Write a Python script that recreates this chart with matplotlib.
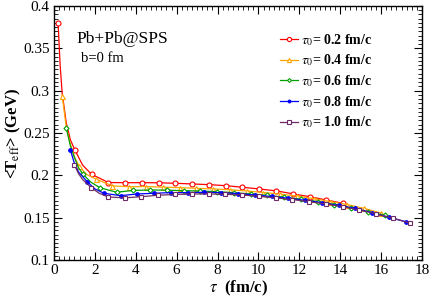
#!/usr/bin/env python3
"""Effective temperature vs proper time for Pb+Pb@SPS, several tau_0."""

import matplotlib

matplotlib.use("Agg")
import matplotlib.pyplot as plt
from matplotlib.ticker import MultipleLocator

# marked points (step 0.82 fm/c) for each tau_0
tau_02 = [0.2, 1.02, 1.84, 2.66, 3.48, 4.30, 5.12, 5.94, 6.76, 7.58, 8.40,
          9.22, 10.04, 10.86, 11.68, 12.50, 13.32, 14.14]
T_02 = [0.380, 0.230, 0.2012, 0.1915, 0.1913, 0.1913, 0.1912, 0.1906, 0.1898,
        0.1890, 0.1878, 0.1859, 0.1839, 0.1817, 0.1782, 0.1748, 0.1709, 0.1669]

tau_04 = [0.4, 1.22, 2.04, 2.86, 3.68, 4.50, 5.32, 6.14, 6.96, 7.78, 8.60,
          9.42, 10.24, 11.06, 11.88, 12.70, 13.52, 14.34, 15.16, 15.98]
T_04 = [0.294, 0.211, 0.1957, 0.1875, 0.1865, 0.1867, 0.1860, 0.1855, 0.1847,
        0.1839, 0.1830, 0.1815, 0.1797, 0.1778, 0.1755, 0.1725, 0.1690, 0.1655,
        0.1610, 0.1555]

tau_06 = [0.6, 1.42, 2.24, 3.06, 3.88, 4.70, 5.52, 6.34, 7.16, 7.98, 8.80,
          9.62, 10.44, 11.26, 12.08, 12.90, 13.72, 14.54, 15.36, 16.18]
T_06 = [0.256, 0.2012, 0.1854, 0.1800, 0.1822, 0.1827, 0.1825, 0.1819, 0.1815,
        0.1807, 0.1795, 0.1780, 0.1763, 0.1742, 0.1718, 0.1690, 0.1655, 0.1615,
        0.1570, 0.1530]

tau_08 = [0.8, 1.62, 2.44, 3.26, 4.08, 4.90, 5.72, 6.54, 7.36, 8.18, 9.00,
          9.82, 10.64, 11.46, 12.28, 13.10, 13.92, 14.74, 15.56, 16.38, 17.20]
T_08 = [0.230, 0.1925, 0.1788, 0.1760, 0.1780, 0.1788, 0.1796, 0.1796, 0.1800,
        0.1796, 0.1785, 0.1768, 0.1750, 0.1730, 0.1705, 0.1678, 0.1645, 0.1610,
        0.1558, 0.1504, 0.1453]

tau_10 = [1.0, 1.82, 2.64, 3.46, 4.28, 5.10, 5.92, 6.74, 7.56, 8.38, 9.20,
          10.02, 10.84, 11.66, 12.48, 13.30, 14.12, 14.94, 15.76, 16.58, 17.40]
T_10 = [0.2122, 0.1855, 0.1745, 0.1734, 0.1748, 0.1765, 0.1774, 0.1780, 0.1780,
        0.1776, 0.1768, 0.1752, 0.1734, 0.1714, 0.1689, 0.1662, 0.1630, 0.1590,
        0.1545, 0.1495, 0.1435]

# extra unmarked points on the lines in the steep early part
tau_02_fine = [0.3, 0.4, 0.6, 0.8, 1.4]
T_02_fine = [0.330, 0.297, 0.262, 0.242, 0.212]
tau_04_fine = [0.6, 0.8, 1.0, 1.6]
T_04_fine = [0.257, 0.237, 0.222, 0.201]
tau_06_fine = [0.8, 1.0, 1.2, 1.8]
T_06_fine = [0.235, 0.221, 0.209, 0.192]
tau_08_fine = [1.0, 1.2, 2.0]
T_08_fine = [0.214, 0.204, 0.184]
tau_10_fine = [1.2, 1.4, 2.2]
T_10_fine = [0.202, 0.195, 0.179]

labels = ["0.2", "0.4", "0.6", "0.8", "1.0"]
colors = ["#ff0000", "#ffa500", "#00a000", "#0000ff", "#6e2a66"]


def merged(tau, T, tau_f, T_f):
    pts = sorted(zip(list(tau) + list(tau_f), list(T) + list(T_f)))
    return [p[0] for p in pts], [p[1] for p in pts]


def main():
    plt.rcParams["font.family"] = ["Liberation Serif", "DejaVu Serif"]
    plt.rcParams["mathtext.fontset"] = "stix"

    fig = plt.figure(figsize=(4.31, 2.98), dpi=100)
    ax = fig.add_axes([0.1253, 0.1275, 0.8537, 0.8525])

    series = [
        (tau_02, T_02, tau_02_fine, T_02_fine, "o", 3.6, "none"),
        (tau_04, T_04, tau_04_fine, T_04_fine, "^", 3.6, "none"),
        (tau_06, T_06, tau_06_fine, T_06_fine, "D", 2.6, "none"),
        (tau_08, T_08, tau_08_fine, T_08_fine, "o", 2.6, None),
        (tau_10, T_10, tau_10_fine, T_10_fine, "s", 3.4, "none"),
    ]
    for (tau, T, tf, Tf, mk, ms, mfc), lab, col in zip(series, labels, colors):
        x, y = merged(tau, T, tf, Tf)
        fc = col if mfc is None else "white"
        ax.plot(x, y, "-", color=col, lw=0.9)
        ax.plot(tau, T, linestyle="none", marker=mk, ms=ms, mew=0.8,
                mec=col, mfc=fc)
        ax.plot([], [], "-", color=col, lw=0.9, marker=mk, ms=ms - 0.6, mew=0.8,
                mec=col, mfc=fc, label=r"$\tau_0$= " + lab + " fm/c")

    ax.set_xlim(0, 18)
    ax.set_ylim(0.1, 0.4)
    ax.xaxis.set_major_locator(MultipleLocator(2))
    ax.xaxis.set_minor_locator(MultipleLocator(0.25))
    ax.yaxis.set_major_locator(MultipleLocator(0.05))
    ax.yaxis.set_minor_locator(MultipleLocator(0.005))
    ax.tick_params(which="both", direction="in", top=True, right=True,
                   labelsize=11, pad=3)
    ax.tick_params(which="major", length=6, width=0.8)
    ax.tick_params(which="minor", length=3, width=0.6)
    ax.set_yticks([0.1, 0.15, 0.2, 0.25, 0.3, 0.35, 0.4])
    ax.set_yticklabels(["0.1", "0.15", "0.2", "0.25", "0.3", "0.35", "0.4"])
    for s in ax.spines.values():
        s.set_linewidth(1.0)

    ax.set_xlabel(r"$\tau$  (fm/c)", fontsize=12, fontweight="bold", labelpad=1)
    ax.set_ylabel(r"<T$_{\rm eff}$> (GeV)", fontsize=12, fontweight="bold")
    ax.yaxis.set_label_coords(-0.085, 0.5)

    ax.text(1.12, 0.356, "Pb+Pb@SPS", fontsize=12.5)
    ax.text(1.32, 0.334, "b=0 fm", fontsize=10.5)

    leg = ax.legend(loc="upper left", bbox_to_anchor=(0.6, 0.92), frameon=False,
                    handlelength=1.3, handletextpad=0.2, labelspacing=0.35,
                    borderaxespad=0, prop={"weight": "bold", "size": 10})
    for t in leg.get_texts():
        t.set_fontweight("bold")

    fig.savefig("out.png", dpi=100)


if __name__ == "__main__":
    main()
